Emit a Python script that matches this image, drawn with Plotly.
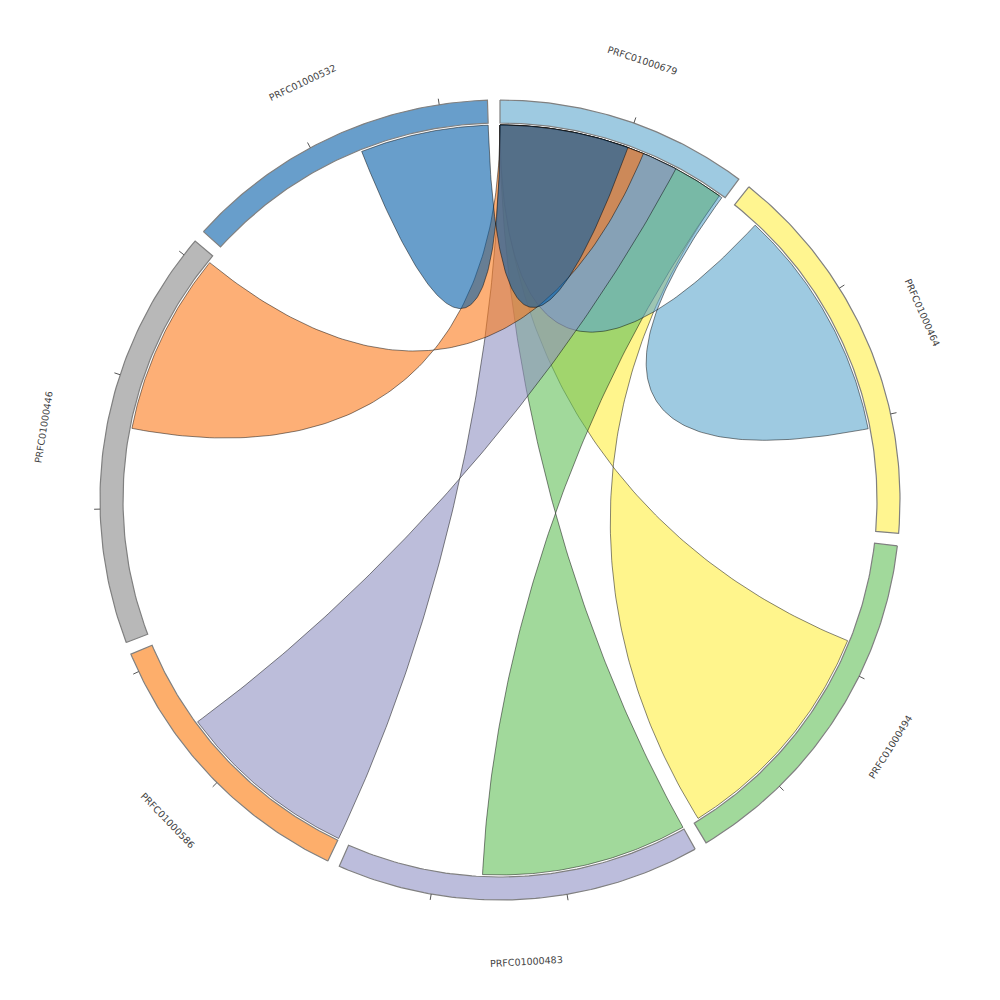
import numpy as np
import plotly.graph_objects as go

# ---------------- data ----------------
groups = ["PRFC01000679", "PRFC01000464", "PRFC01000494", "PRFC01000483",
          "PRFC01000586", "PRFC01000446", "PRFC01000532"]
group_values = [37.5, 57.6, 53.6, 54.1, 42.8, 62.6, 47.1]
group_colors = ["#9ecae1", "#fff590", "#a1d99b", "#bcbddc", "#fdae6b", "#b8b8b8", "#689ecb"]
tick_values = [[20], [20, 40], [20, 40], [20, 40], [20, 40], [20, 40, 60], [20, 40]]

hub = "PRFC01000679"
# chords listed bottom -> top in drawing order
chord_groups = ["PRFC01000494", "PRFC01000483", "PRFC01000464",
                "PRFC01000586", "PRFC01000446", "PRFC01000532"]
chord_src_start = [15.8, 0.0, 4.5, 0.0, 32.6, 26.8]
chord_src_end = [52.7, 32.6, 41.5, 28.9, 61.5, 47.1]
chord_hub_width = [36.6, 36.6, 37.1, 28.6, 23.0, 20.4]
chord_colors = ["rgba(255,238,63,0.6)", "rgba(98,192,88,0.6)", "rgba(93,167,205,0.6)",
                "rgba(143,145,193,0.6)", "rgba(252,122,27,0.6)", "rgba(3,93,168,0.6)"]

# ---------------- geometry ----------------
GAP = 1.8
R_OUT, R_IN, R_CH = 400, 377, 375
R_CTRL = 140
R_LABEL = 462
k = (360 - GAP * len(groups)) / sum(group_values)
starts = {}
a = 0.0
for g, v in zip(groups, group_values):
    starts[g] = a
    a += v * k + GAP


def pol(theta, r):
    t = np.radians(theta)
    return r * np.sin(t), r * np.cos(t)


def arc(t0, t1, r, n=80):
    th = np.linspace(t0, t1, n)
    x, y = pol(th, r)
    return list(x), list(y)


def bez(th0, th1, n=120):
    p0 = np.array(pol(th0, R_CH))
    p1 = np.array(pol(th0, R_CTRL))
    p2 = np.array(pol(th1, R_CTRL))
    p3 = np.array(pol(th1, R_CH))
    t = np.linspace(0, 1, n)[:, None]
    pts = (1 - t) ** 3 * p0 + 3 * t * (1 - t) ** 2 * p1 + 3 * t ** 2 * (1 - t) * p2 + t ** 3 * p3
    return list(pts[:, 0]), list(pts[:, 1])


fig = go.Figure()

# group arcs
for g, v, c in zip(groups, group_values, group_colors):
    t0 = starts[g]
    t1 = t0 + v * k
    xo, yo = arc(t0, t1, R_OUT)
    xi, yi = arc(t1, t0, R_IN)
    fig.add_trace(go.Scatter(x=xo + xi + [xo[0]], y=yo + yi + [yo[0]], mode="lines",
                             fill="toself", fillcolor=c,
                             line=dict(color="#808080", width=1.2),
                             hoverinfo="skip", showlegend=False))

# ticks
tx, ty = [], []
for g, tv in zip(groups, tick_values):
    for v in tv:
        th = starts[g] + v * k
        x0, y0 = pol(th, R_OUT)
        x1, y1 = pol(th, R_OUT + 6)
        tx += [x0, x1, None]
        ty += [y0, y1, None]
fig.add_trace(go.Scatter(x=tx, y=ty, mode="lines", line=dict(color="#555555", width=1),
                         hoverinfo="skip", showlegend=False))

# chords (twisted ribbons to the hub)
hb0 = starts[hub]
for g, s0, s1, w, c in zip(chord_groups, chord_src_start, chord_src_end, chord_hub_width, chord_colors):
    a0 = starts[g] + s0 * k
    a1 = starts[g] + s1 * k
    b0 = hb0
    b1 = hb0 + w * k
    x1, y1 = arc(a0, a1, R_CH)
    x2, y2 = bez(a1, b1)
    x3, y3 = arc(b1, b0, R_CH)
    x4, y4 = bez(b0, a0)
    xs = x1 + x2 + x3 + x4
    ys = y1 + y2 + y3 + y4
    fig.add_trace(go.Scatter(x=xs, y=ys, mode="lines", fill="toself", fillcolor=c,
                             line=dict(color="rgba(0,0,0,0.8)", width=0.6),
                             hoverinfo="skip", showlegend=False))

# labels (centred on each group, written along the circle)
for g, v in zip(groups, group_values):
    th = starts[g] + v * k * 0.49
    x, y = pol(th, R_LABEL)
    ang = th % 360
    if 90 < ang < 270:
        ta = ang - 180
    elif ang >= 270:
        ta = ang - 360
    else:
        ta = ang
    fig.add_annotation(x=x, y=y, text=g, showarrow=False, textangle=ta,
                       font=dict(family="DejaVu Sans", size=9.5, color="#444444"),
                       xanchor="center", yanchor="middle")

# the page puts the plot 8 px from the top-left corner; keep the circle centred in the window
fig.update_layout(width=1000, height=1000, margin=dict(l=0, r=0, t=0, b=0),
                  paper_bgcolor="white", plot_bgcolor="white",
                  xaxis=dict(range=[-492, 508], visible=False),
                  yaxis=dict(range=[-508, 492], visible=False, scaleanchor="x", scaleratio=1),
                  showlegend=False)
fig.write_html("out.html")
